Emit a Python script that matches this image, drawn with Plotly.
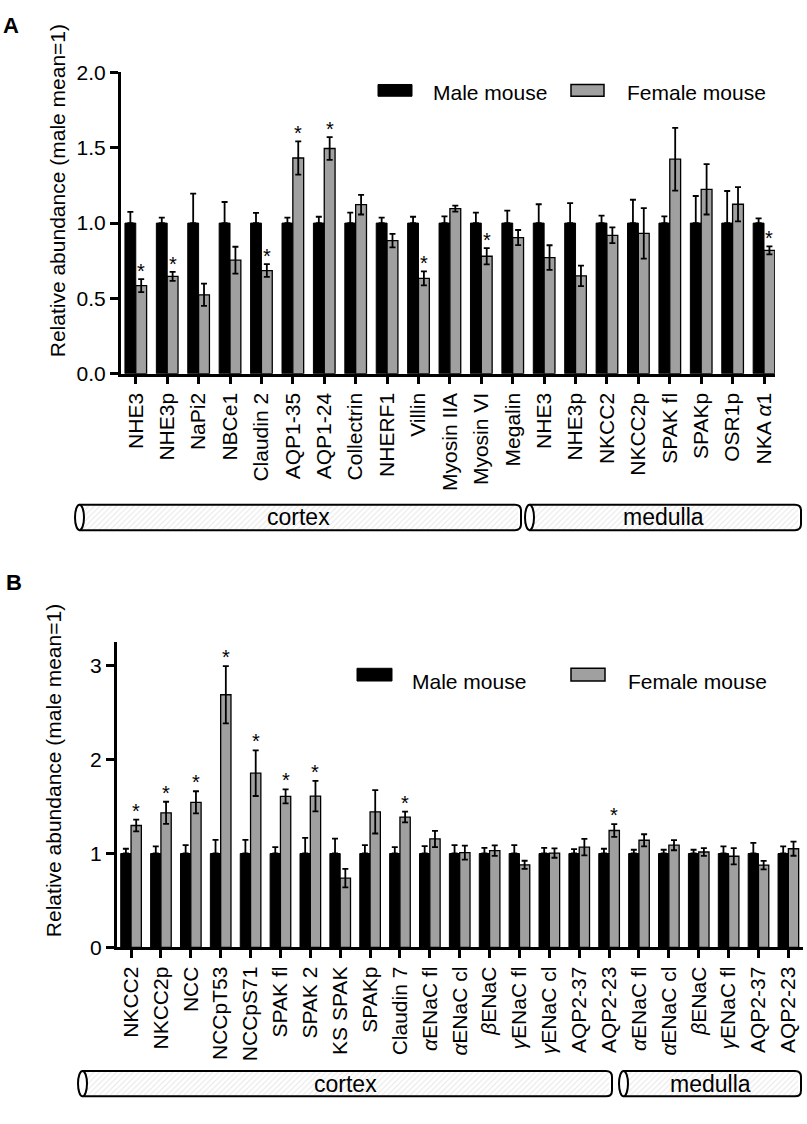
import plotly.graph_objects as go

W, H = 807, 1124
FONT = "Liberation Sans, Arial, sans-serif"

# ---- panel A data ----
cats_a = ["NHE3", "NHE3p", "NaPi2", "NBCe1", "Claudin 2", "AQP1-35", "AQP1-24",
          "Collectrin", "NHERF1", "Villin", "Myosin IIA", "Myosin VI", "Megalin",
          "NHE3", "NHE3p", "NKCC2", "NKCC2p", "SPAK fl", "SPAKp", "OSR1p", "NKA <i>α</i>1"]
male_a = [1.0, 1.0, 1.0, 1.0, 1.0, 1.0, 1.0, 1.0, 1.0, 1.0, 1.0,
          1.0, 1.0, 1.0, 1.0, 1.0, 1.0, 1.0, 1.0, 1.0, 1.0]
male_err_a = [0.075, 0.036, 0.196, 0.14, 0.068, 0.036, 0.042, 0.07, 0.036, 0.042, 0.044,
              0.07, 0.083, 0.125, 0.133, 0.049, 0.155, 0.044, 0.18, 0.213, 0.031]
female_a = [0.585, 0.646, 0.524, 0.754, 0.685, 1.432, 1.495, 1.122, 0.884, 0.633, 1.096,
            0.78, 0.904, 0.771, 0.65, 0.919, 0.932, 1.424, 1.224, 1.125, 0.819]
female_err_a = [0.043, 0.03, 0.074, 0.089, 0.042, 0.11, 0.076, 0.065, 0.045, 0.047, 0.02,
                0.054, 0.05, 0.082, 0.068, 0.052, 0.168, 0.208, 0.167, 0.114, 0.026]
sig_a = [1, 1, 0, 0, 1, 1, 1, 0, 0, 1, 0, 1, 0, 0, 0, 0, 0, 0, 0, 0, 1]
groups_a = [("cortex", 13), ("medulla", 8)]

# ---- panel B data ----
cats_b = ["NKCC2", "NKCC2p", "NCC", "NCCpT53", "NCCpS71", "SPAK fl", "SPAK 2", "KS SPAK",
          "SPAKp", "Claudin 7", "<i>α</i>ENaC fl", "<i>α</i>ENaC cl", "<i>β</i>ENaC",
          "<i>γ</i>ENaC fl", "<i>γ</i>ENaC cl", "AQP2-37", "AQP2-23",
          "<i>α</i>ENaC fl", "<i>α</i>ENaC cl", "<i>β</i>ENaC", "<i>γ</i>ENaC fl",
          "AQP2-37", "AQP2-23"]
male_b = [1.0, 1.0, 1.0, 1.0, 1.0, 1.0, 1.0, 1.0, 1.0, 1.0, 1.0, 1.0,
          1.0, 1.0, 1.0, 1.0, 1.0, 1.0, 1.0, 1.0, 1.0, 1.0, 1.0]
male_err_b = [0.051, 0.075, 0.089, 0.145, 0.145, 0.068, 0.166, 0.159, 0.089, 0.068, 0.078, 0.089,
              0.061, 0.089, 0.061, 0.047, 0.051, 0.04, 0.04, 0.04, 0.075, 0.114, 0.075]
female_b = [1.298, 1.433, 1.545, 2.69, 1.855, 1.608, 1.611, 0.738, 1.444, 1.388, 1.155, 1.009,
            1.03, 0.88, 1.005, 1.068, 1.245, 1.141, 1.089, 1.016, 0.971, 0.877, 1.051]
female_err_b = [0.063, 0.118, 0.118, 0.305, 0.243, 0.075, 0.162, 0.099, 0.231, 0.057, 0.087, 0.075,
                0.056, 0.043, 0.05, 0.087, 0.068, 0.064, 0.054, 0.042, 0.087, 0.045, 0.075]
sig_b = [1, 1, 1, 1, 1, 1, 1, 0, 0, 1, 0, 0, 0, 0, 0, 0, 1, 0, 0, 0, 0, 0, 0]
groups_b = [("cortex", 17), ("medulla", 6)]

BARGAP = 0.31
GREY = "#a0a0a0"


def px(x):
    return x / W


def py(y):
    return 1 - y / H


fig = go.Figure()

panels = [
    dict(xa="x", ya="y", cats=cats_a, m=male_a, me=male_err_a, f=female_a, fe=female_err_a,
         sig=sig_a, groups=groups_a, letter="A", letter_xy=(11, 14), title_xy=(57, 183),
         plot=(120.7, 775, 61.7, 369.3), xr=[-0.48, 20.35], yr=[0, 2.0], dtick=0.5, fmt=".1f",
         legend=(378, 412, 74, 86, 82, 571, 604, 625, 431),
         boxes=[(75, 521), (525, 801)], box_y=(503, 529), star_shift=8),
    dict(xa="x2", ya="y2", cats=cats_b, m=male_b, me=male_err_b, f=female_b, fe=female_err_b,
         sig=sig_b, groups=groups_b, letter="B", letter_xy=(14, 582), title_xy=(53, 775),
         plot=(116.7, 803, 643.3, 955), xr=[-0.48, 22.49], yr=[0, 3.25], dtick=1, fmt="d",
         legend=(357, 392, 670, 683, 683, 571, 605, 626, 410),
         boxes=[(78, 612), (619, 801)], box_y=(1081, 1107), star_shift=9),
]

for k, p in enumerate(panels):
    n = len(p["cats"])
    xs = list(range(n))
    fig.add_trace(go.Bar(
        x=xs, y=p["m"], xaxis=p["xa"], yaxis=p["ya"], name="Male mouse",
        marker=dict(color="black", line=dict(color="black", width=1)),
        error_y=dict(type="data", symmetric=False, array=p["me"], arrayminus=[0] * n,
                     color="black", thickness=1.8, width=3),
        showlegend=False))
    fig.add_trace(go.Bar(
        x=xs, y=p["f"], xaxis=p["xa"], yaxis=p["ya"], name="Female mouse",
        marker=dict(color=GREY, line=dict(color="black", width=1.3)),
        error_y=dict(type="data", array=p["fe"], color="black", thickness=1.8, width=3),
        showlegend=False))

    # significance stars above the female bars
    off = (1 - BARGAP) / 4
    for i in range(n):
        if p["sig"][i]:
            fig.add_annotation(x=i + off, y=p["f"][i] + p["fe"][i], xref=p["xa"], yref=p["ya"],
                               text="*", showarrow=False, yanchor="middle",
                               yshift=p["star_shift"], font=dict(size=20, color="black"))

    x0, x1, y0, y1 = p["plot"]
    axis_common = dict(showline=True, linecolor="black", linewidth=2.5, ticks="outside",
                       ticklen=8, tickwidth=2.5, tickcolor="black", showgrid=False,
                       zeroline=False, tickfont=dict(size=21, color="black", family=FONT))
    xname = "xaxis" if k == 0 else "xaxis2"
    yname = "yaxis" if k == 0 else "yaxis2"
    fig.update_layout({
        xname: dict(axis_common, domain=[px(x0), px(x1)], anchor=p["ya"], range=p["xr"],
                    tickmode="array", tickvals=xs, ticktext=p["cats"], tickangle=-90),
        yname: dict(axis_common, domain=[py(y1), py(y0)], anchor=p["xa"], range=p["yr"],
                    dtick=p["dtick"], tickformat=p["fmt"],
                    tickfont=dict(size=21, color="black", family=FONT)),
    })

    # panel letter and y-axis title
    lx, ly = p["letter_xy"]
    fig.add_annotation(x=lx, y=ly, xref="x3", yref="y3", text="<b>" + p["letter"] + "</b>",
                       showarrow=False, font=dict(size=22, color="black"))
    tx, ty = p["title_xy"]
    fig.add_annotation(x=tx, y=ty, xref="x3", yref="y3", text="Relative abundance (male mean=1)",
                       textangle=-90, showarrow=False, font=dict(size=21, color="black"))

    # legend drawn by hand
    m0, m1, r0, r1, ty_leg, f0, f1, ftx, mtx = p["legend"]
    fig.add_shape(type="rect", xref="x3", yref="y3", x0=m0, x1=m1, y0=r0, y1=r1,
                  fillcolor="black", line=dict(color="black", width=1))
    fig.add_shape(type="rect", xref="x3", yref="y3", x0=f0, x1=f1, y0=r0, y1=r1,
                  fillcolor=GREY, line=dict(color="black", width=1.5))
    fig.add_annotation(x=mtx, y=ty_leg, xref="x3", yref="y3", text="Male mouse", xanchor="left",
                       yanchor="middle", showarrow=False, font=dict(size=21, color="black"))
    fig.add_annotation(x=ftx, y=ty_leg, xref="x3", yref="y3", text="Female mouse", xanchor="left",
                       yanchor="middle", showarrow=False, font=dict(size=21, color="black"))

    # region boxes (cortex / medulla) with hatched fill
    by0, by1 = p["box_y"]
    ym = (by0 + by1) / 2
    bh = by1 - by0 - 2
    for (name, cnt), (bx0, bx1) in zip(p["groups"], p["boxes"]):
        fig.add_trace(go.Bar(
            y=[ym], x=[bx1 - bx0 - 6], base=[bx0 + 3], width=[bh], offset=[-bh / 2],
            orientation="h", xaxis="x3", yaxis="y3", showlegend=False, hoverinfo="skip",
            marker=dict(color="white", line=dict(width=0),
                        pattern=dict(shape="/", fgcolor="#cdcdcd", bgcolor="white",
                                     size=4, solidity=0.25))))
        r = 6
        e = 4.5
        path = (f"M {bx0 + e},{by0} L {bx1 - r},{by0} Q {bx1},{by0} {bx1},{by0 + r} "
                f"L {bx1},{by1 - r} Q {bx1},{by1} {bx1 - r},{by1} L {bx0 + e},{by1}")
        fig.add_shape(type="path", xref="x3", yref="y3", path=path,
                      line=dict(color="black", width=2))
        fig.add_shape(type="circle", xref="x3", yref="y3", x0=bx0, x1=bx0 + 2 * e,
                      y0=by0, y1=by1, fillcolor="white", line=dict(color="black", width=2))
        fig.add_annotation(x=(bx0 + bx1) / 2, y=ym, xref="x3", yref="y3", text=name,
                           showarrow=False, yanchor="middle",
                           font=dict(size=23, color="black"))

fig.update_layout(
    width=W, height=H, autosize=False,
    margin=dict(l=0, r=0, t=0, b=0),
    paper_bgcolor="white", plot_bgcolor="rgba(0,0,0,0)",
    font=dict(family=FONT, color="black"),
    barmode="group", bargap=BARGAP, bargroupgap=0,
    showlegend=False,
    xaxis3=dict(domain=[0, 1], range=[0, W], visible=False, anchor="y3", fixedrange=True),
    yaxis3=dict(domain=[0, 1], range=[H, 0], visible=False, anchor="x3", fixedrange=True),
)

# the page body has a default 8px margin; remove it so the figure fills the window
fig.write_html("out.html", config={"displayModeBar": False},
               post_script="document.body.style.margin='0px';")
